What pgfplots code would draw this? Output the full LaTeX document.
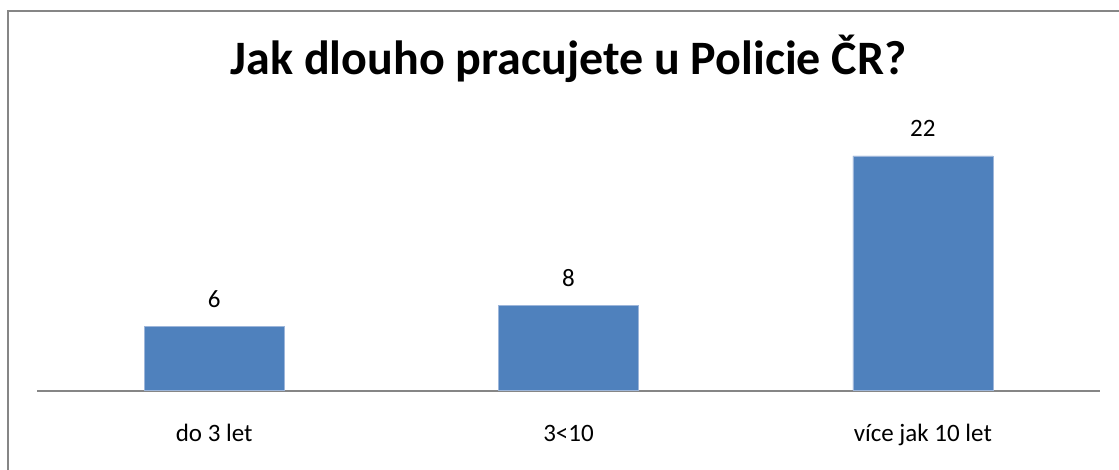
\documentclass[border=0pt]{standalone}
\usepackage{fontspec}
\setmainfont{Carlito}
\usepackage{pgfplots}
\pgfplotsset{compat=1.18}
\definecolor{barblue}{HTML}{4F81BD}
\definecolor{baredge}{HTML}{9DB6DA}
\definecolor{axgray}{HTML}{868686}
\begin{document}
\begin{tikzpicture}
\useasboundingbox (0,0) rectangle (1119pt,469pt);
\draw[color=axgray, line width=2pt] (7.5pt,-5pt) -- (7.5pt,457.5pt) -- (1125pt,457.5pt);
\begin{axis}[
  at={(37pt,78.5pt)}, anchor=south west,
  scale only axis, width=1063pt, height=256pt,
  xmin=-0.5, xmax=2.5, ymin=0, ymax=24,
  clip=false,
  /pgf/number format/assume math mode=true,
  axis x line=bottom, axis y line=none,
  x axis line style={-, color=axgray, line width=2pt},
  major tick length=0pt,
  xtick={0,1,2},
  xticklabels={do 3 let, 3<10, více jak 10 let},
  xticklabel style={font=\fontsize{25}{30}\selectfont, anchor=base, yshift=-50.5pt},
  ytick=\empty,
  ybar, bar width=140pt, bar shift=0pt,
  nodes near coords,
  every node near coord/.append style={font=\fontsize{25}{30}\selectfont, anchor=base, yshift=19pt, inner sep=0pt},
]
\addplot[fill=barblue, draw=baredge, line width=0.6pt] coordinates {(0,6) (1,8) (2,22)};
\end{axis}
\node[anchor=base, font=\fontsize{48}{56}\selectfont\bfseries] at (568.5pt,394pt) {Jak dlouho pracujete u Policie ČR?};
\end{tikzpicture}
\end{document}
